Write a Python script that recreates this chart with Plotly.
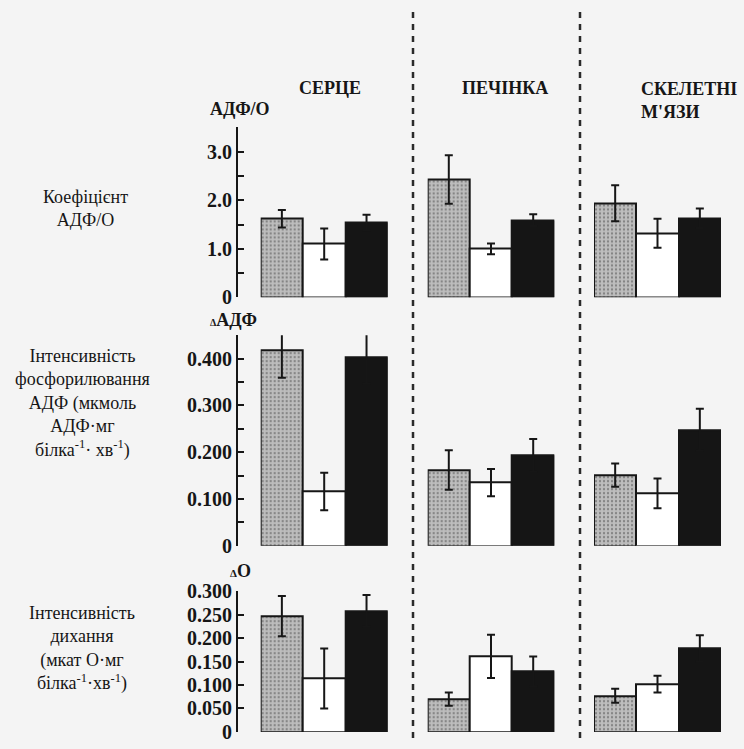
import plotly.graph_objects as go

W, H = 744, 749

# ---------------- data ----------------
organs = ["СЕРЦЕ", "ПЕЧІНКА", "СКЕЛЕТНІ<br>М'ЯЗИ"]
groups = ["група 1", "група 2", "група 3"]

# Row 1: коефіцієнт АДФ/О
ratio_heart = [1.62, 1.10, 1.54]
ratio_liver = [2.43, 1.00, 1.59]
ratio_muscle = [1.94, 1.32, 1.63]
ratio_err_heart = [0.18, 0.32, 0.16]
ratio_err_liver = [0.50, 0.11, 0.12]
ratio_err_muscle = [0.37, 0.30, 0.20]

# Row 2: інтенсивність фосфорилювання АДФ
phos_heart = [0.419, 0.116, 0.402]
phos_liver = [0.162, 0.135, 0.193]
phos_muscle = [0.151, 0.112, 0.248]
phos_err_heart = [0.060, 0.040, 0.056]
phos_err_liver = [0.042, 0.029, 0.035]
phos_err_muscle = [0.025, 0.032, 0.045]

# Row 3: інтенсивність дихання
resp_heart = [0.247, 0.114, 0.258]
resp_liver = [0.070, 0.161, 0.129]
resp_muscle = [0.077, 0.102, 0.178]
resp_err_heart = [0.043, 0.064, 0.034]
resp_err_liver = [0.014, 0.046, 0.032]
resp_err_muscle = [0.015, 0.018, 0.028]

ratio_ticks = [0, 1.0, 2.0, 3.0]
ratio_ticktext = ["0", "1.0", "2.0", "3.0"]
phos_ticks = [0, 0.1, 0.2, 0.3, 0.4]
phos_ticktext = ["0", "0.100", "0.200", "0.300", "0.400"]
resp_ticks = [0, 0.05, 0.1, 0.15, 0.2, 0.25, 0.3]
resp_ticktext = ["0", "0.050", "0.100", "0.150", "0.200", "0.250", "0.300"]
minor_steps = [0.5, 0.05, 0.05]

row_labels = [
    "Коефіцієнт<br>АДФ/О",
    "Інтенсивність<br>фосфорилювання<br>АДФ (мкмоль<br>АДФ·мг<br>білка<sup>-1</sup>· хв<sup>-1</sup>)",
    "Інтенсивність<br>дихання<br>(мкат О·мг<br>білка<sup>-1</sup>·хв<sup>-1</sup>)",
]
unit_labels = ["АДФ/О", "<span style='font-size:10px'>Δ</span>АДФ", "<span style='font-size:11px'>Δ</span>О"]

rows = [
    dict(vals=[ratio_heart, ratio_liver, ratio_muscle],
         errs=[ratio_err_heart, ratio_err_liver, ratio_err_muscle],
         rng=[0, 3.5], ticks=ratio_ticks, text=ratio_ticktext),
    dict(vals=[phos_heart, phos_liver, phos_muscle],
         errs=[phos_err_heart, phos_err_liver, phos_err_muscle],
         rng=[0, 0.45], ticks=phos_ticks, text=phos_ticktext),
    dict(vals=[resp_heart, resp_liver, resp_muscle],
         errs=[resp_err_heart, resp_err_liver, resp_err_muscle],
         rng=[0, 0.3], ticks=resp_ticks, text=resp_ticktext),
]

# ---------------- layout geometry (pixels) ----------------
col_px = [(260.7, 387.7), (427.7, 554.3), (594.0, 721.0)]
row_px = [(120.0, 295.0), (334.0, 551.0), (597.8, 742.7)]  # (top, bottom)
yaxis_x_px = 237.0

FONT = "Liberation Serif, Times New Roman, serif"
INK = "#161616"

def px_x(p):
    return p / W

def px_y(p):
    return 1 - p / H

fig = go.Figure()
layout_axes = {}

bar_colors = ["#bdbdbd", "#ffffff", "#151515"]
pattern_shapes = [".", "", ""]

idx = 0
for r, row in enumerate(rows):
    for c in range(3):
        idx += 1
        xa = "x" if idx == 1 else f"x{idx}"
        ya = "y" if idx == 1 else f"y{idx}"
        xkey = "xaxis" if idx == 1 else f"xaxis{idx}"
        ykey = "yaxis" if idx == 1 else f"yaxis{idx}"
        fig.add_trace(go.Bar(
            x=[0, 1, 2], y=row["vals"][c],
            width=1.0,
            marker=dict(color=bar_colors,
                        line=dict(color=INK, width=2),
                        pattern=dict(shape=pattern_shapes, fgcolor="#7a7a7a",
                                     bgcolor="#c4c4c4", size=4, solidity=0.25)),
            error_y=dict(type="data", array=row["errs"][c], visible=True,
                         color=INK, thickness=2, width=4),
            cliponaxis=False,
            showlegend=False,
            xaxis=xa, yaxis=ya,
            hovertext=groups,
        ))
        cx0, cx1 = col_px[c]
        top, bot = row_px[r]
        layout_axes[xkey] = dict(domain=[px_x(cx0), px_x(cx1)], range=[-0.5, 2.5],
                                 visible=False, anchor=ya, fixedrange=True)
        yd = dict(domain=[px_y(bot), px_y(top)], range=row["rng"], fixedrange=True,
                  showgrid=False, zeroline=False)
        if c == 0:
            yd.update(anchor="free", position=px_x(yaxis_x_px), showline=True,
                      linecolor=INK, linewidth=2, ticks="inside", ticklen=6,
                      tickwidth=2, tickcolor=INK, tickmode="array",
                      tickvals=row["ticks"], ticktext=row["text"],
                      minor=dict(dtick=minor_steps[r], tick0=0, ticks="inside",
                                 ticklen=6, tickwidth=2, tickcolor=INK, showgrid=False),
                      tickfont=dict(family=FONT, size=20, color=INK, weight="bold"))
        else:
            yd.update(visible=False, anchor=xa)
        layout_axes[ykey] = yd

fig.update_layout(**layout_axes)

annotations = []
# column titles
title_pos = [(330, 79), (505, 79), (689, 68)]
for t, (x, y) in zip(organs, title_pos):
    two = "<br>" in t
    annotations.append(dict(text=t, x=px_x(x), y=px_y(y), xref="paper", yref="paper",
                            xanchor="center", yanchor="top" if two else "middle",
                            showarrow=False, align="left",
                            font=dict(family=FONT, size=18, color=INK, weight="bold")))

# unit labels above axes
unit_pos = [(240, 101), (233, 318), (240, 577)]
for t, (x, y) in zip(unit_labels, unit_pos):
    annotations.append(dict(text=t, x=px_x(x), y=px_y(y), xref="paper", yref="paper",
                            xanchor="center", yanchor="middle", showarrow=False,
                            font=dict(family=FONT, size=18, color=INK, weight="bold")))

# row labels
label_pos = [(85, 203), (82, 404), (82, 657)]
for t, (x, y) in zip(row_labels, label_pos):
    annotations.append(dict(text=t, x=px_x(x), y=px_y(y), xref="paper", yref="paper",
                            xanchor="center", yanchor="middle", showarrow=False,
                            align="center",
                            font=dict(family=FONT, size=18, color=INK)))

shapes = []
for xs in (413, 580):
    shapes.append(dict(type="line", xref="paper", yref="paper",
                       x0=px_x(xs), x1=px_x(xs), y0=0, y1=1,
                       line=dict(color="#2a2a2a", width=2.5, dash="6px,6px")))

fig.update_layout(width=W, height=H, margin=dict(l=0, r=0, t=0, b=0),
                  paper_bgcolor="#f4f4f4", plot_bgcolor="rgba(0,0,0,0)",
                  annotations=annotations, shapes=shapes, bargap=0)

fig.write_html("out.html", config={"displayModeBar": False},
               post_script="document.body.style.margin='0';document.body.style.overflow='hidden';")
